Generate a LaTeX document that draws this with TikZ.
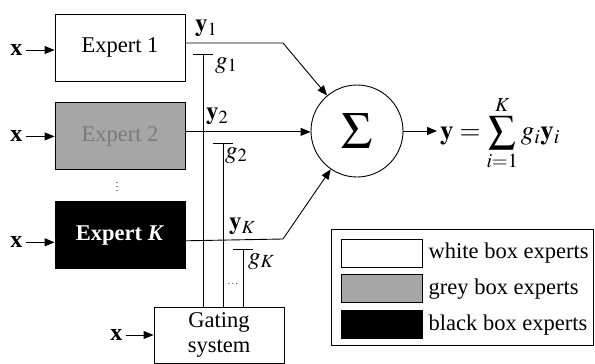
\documentclass[tikz,border=0pt]{standalone}
\usepackage{mathptmx}
\usepackage{fontspec}
\setmainfont{Liberation Serif}
\usetikzlibrary{arrows.meta, positioning}

\begin{document}
\begin{tikzpicture}[x=1pt, y=-1pt,
  every node/.style={font=\fontsize{22.5}{25}\selectfont},
  expert/.style={draw, line width=0.9pt, minimum width=130pt, minimum height=67pt,
                 inner sep=0pt},
  swatch/.style={draw, line width=0.9pt, minimum width=81pt, minimum height=28pt,
                 inner sep=0pt},
  inp/.style={inner sep=3pt, font=\fontsize{24}{25}\selectfont\bfseries},
  lab/.style={inner sep=1pt, font=\fontsize{25}{28}\selectfont},
  arr/.style={-{Triangle[length=10pt, width=8pt]}, line width=0.9pt},
  wire/.style={line width=0.9pt}
]
  \useasboundingbox (0,0) rectangle (595,364);

  % Experts
  \node[expert] (e1) at (120,47.5) {Expert 1};
  \node[expert, fill=black!35, text=black!52, below=21pt of e1] (e2) {Expert 2};
  \node[expert, fill=black, text=white, below=31pt of e2,
        font=\fontsize{22.5}{25}\selectfont\bfseries] (eK) {Expert \textit{K}};
  \node[inner sep=0pt] (vdots) at (117,184) {\fontsize{10}{10}\selectfont$\vdots$};

  % Gating system
  \node[draw, line width=0.9pt, minimum width=130pt, minimum height=56pt,
        align=center, inner sep=0pt] (gate) at (219,335) {Gating\\system};

  % Inputs
  \node[inp, left=29pt of e1, yshift=-2.5pt] (x1) {x};
  \node[inp, left=29pt of e2] (x2) {x};
  \node[inp, left=29pt of eK, yshift=-7pt] (xK) {x};
  \node[inp, left=28pt of gate] (xg) {x};
  \draw[arr] (x1) -- (x1 -| e1.west);
  \draw[arr] (x2) -- (e2);
  \draw[arr] (xK) -- (xK -| eK.west);
  \draw[arr] (xg) -- (gate);

  % Summation
  \node[draw, circle, line width=0.9pt, minimum size=92pt, inner sep=0pt,
        font=\fontsize{52}{52}\selectfont] (sum) at (357,131) {$\Sigma$};
  \node[anchor=west, inner sep=3pt, font=\fontsize{27}{30}\selectfont] (out) at (437,133)
       {$\mathbf{y} = \displaystyle\sum_{i=1}^{K} g_i\mathbf{y}_i$};
  \draw[arr] (sum) -- (sum.east -| out.west);

  % Expert outputs
  \coordinate (o1) at ([yshift=4.5pt]e1.east);
  \coordinate (o2) at ([yshift=4.5pt]e2.east);
  \coordinate (oK) at ([yshift=-5.5pt]eK.east);
  \coordinate (b1) at (283,43);
  \coordinate (bK) at (283,239);
  \draw[arr] (o1) -- (b1) -- (sum);
  \draw[arr] (o2) -- (o2 -| sum.west);
  \draw[arr] (oK) -- (bK) -- (sum);
  \node[lab, anchor=south west] (y1) at (194,38) {$\mathbf{y}_1$};
  \node[lab, anchor=south west] (y2) at (205,126) {$\mathbf{y}_2$};
  \node[lab, anchor=south west] (yK) at (228,236) {$\mathbf{y}_K$};

  % Gates
  \coordinate (t1) at (203,54);
  \coordinate (t2) at (223,143);
  \coordinate (tK) at (243,249);
  \foreach \t in {t1, t2, tK} {
    \draw[wire] (\t |- gate.north) -- (\t);
    \draw[wire] ([xshift=-10pt]\t) -- ([xshift=10pt]\t);
  }
  \node[lab, anchor=north west] (g1) at ([shift={(11,2)}]t1) {$g_1$};
  \node[lab, anchor=north west] (g2) at ([shift={(1,3)}]t2) {$g_2$};
  \node[lab, anchor=north west] (gK) at ([shift={(4,3)}]tK) {$g_K$};
  \node[inner sep=0pt] (hdots) at (233,284) {\fontsize{10}{10}\selectfont$\ldots$};

  % Legend
  \node[draw, line width=0.9pt, minimum width=262pt, minimum height=116pt,
        inner sep=0pt] (legend) at (462,287) {};
  \node[swatch] (sw1) at (381.5,253) {};
  \node[swatch, fill=black!35, below=7pt of sw1] (sw2) {};
  \node[swatch, fill=black, below=7pt of sw2] (sw3) {};
  \node[right=6pt of sw1, inner sep=0pt] (l1) {white box experts};
  \node[right=6pt of sw2, inner sep=0pt] (l2) {grey box experts};
  \node[right=6pt of sw3, inner sep=0pt] (l3) {black box experts};
\end{tikzpicture}
\end{document}
